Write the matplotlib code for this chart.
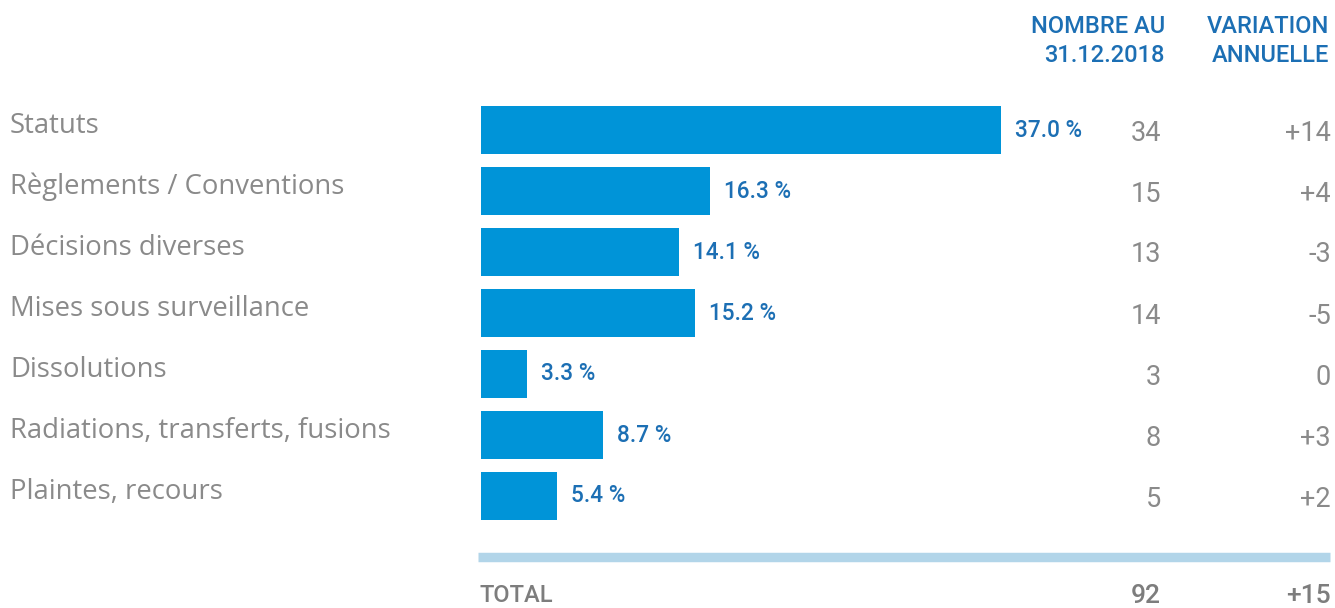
import matplotlib.pyplot as plt

plt.rcParams['font.family'] = ['Roboto', 'DejaVu Sans']

categories = ['Statuts', 'Règlements / Conventions', 'Décisions diverses',
              'Mises sous surveillance', 'Dissolutions',
              'Radiations, transferts, fusions', 'Plaintes, recours']
shares = [37.0, 16.3, 14.1, 15.2, 3.3, 8.7, 5.4]
counts = [34, 15, 13, 14, 3, 8, 5]
changes = ['+14', '+4', '-3', '-5', '0', '+3', '+2']
total_count = 92
total_change = '+15'
col_headers = ['NOMBRE AU\n31.12.2018', 'VARIATION\nANNUELLE']

BAR = '#0094d8'
BLUE_TXT = '#1c6fb4'
GREY = '#8a8a8a'
LINE = '#b2d5e9'

W, H = 1335, 608
fig = plt.figure(figsize=(W / 100, H / 100), dpi=100)

# pixel layout of the bar area
x0_px, x1_px = 481, 1330
px_per_pct = 14.05
row_px = 61.0
first_row_px = 130

ax = fig.add_axes([x0_px / W, 0, (x1_px - x0_px) / W, 1])
ax.set_xlim(0, (x1_px - x0_px) / px_per_pct)
ax.set_ylim(6 + (H - (first_row_px + 6 * row_px)) / row_px, -first_row_px / row_px)
ax.axis('off')


def xd(px):
    return (px - x0_px) / px_per_pct


def yd(px):
    return (px - first_row_px) / row_px


ypos = list(range(len(categories)))
ax.barh(ypos, shares, height=48 / row_px, color=BAR, left=0)

for i, (cat, s, c, ch) in enumerate(zip(categories, shares, counts, changes)):
    ax.text(xd(10), i - 4 / row_px, cat, ha='left', va='center', fontsize=19.8,
            color=GREY, family=['Open Sans', 'DejaVu Sans'], clip_on=False)
    ax.text(s + xd(495), i, f'{s:.1f} %', ha='left', va='center', fontsize=16.3,
            color=BLUE_TXT, fontweight='medium')
    ax.text(xd(1161), i + 3 / row_px, str(c), ha='right', va='center', fontsize=19.5,
            color=GREY, fontweight='normal')
    ax.text(xd(1331), i + 3 / row_px, ch, ha='right', va='center', fontsize=19.5,
            color=GREY, fontweight='normal', clip_on=False)

# column headers
ax.text(xd(1165), yd(41), col_headers[0], ha='right', va='center', fontsize=17,
        color=BLUE_TXT, fontweight='medium', linespacing=1.3, clip_on=False)
ax.text(xd(1329), yd(41), col_headers[1], ha='right', va='center', fontsize=17,
        color=BLUE_TXT, fontweight='medium', linespacing=1.3, clip_on=False)

# separator and total row
ax.plot([xd(478), xd(1330)], [yd(556.5), yd(556.5)], color=LINE, lw=6.8,
        solid_capstyle='butt', clip_on=False)
ax.text(xd(479), yd(596), 'TOTAL', ha='left', va='center', fontsize=17,
        color='#7d7d7d', fontweight='medium', clip_on=False)
ax.text(xd(1161), yd(596), str(total_count), ha='right', va='center', fontsize=19,
        color='#7d7d7d', fontweight='medium', clip_on=False)
ax.text(xd(1331), yd(596), total_change, ha='right', va='center', fontsize=19,
        color='#7d7d7d', fontweight='medium', clip_on=False)

fig.savefig('out.png', dpi=100)
